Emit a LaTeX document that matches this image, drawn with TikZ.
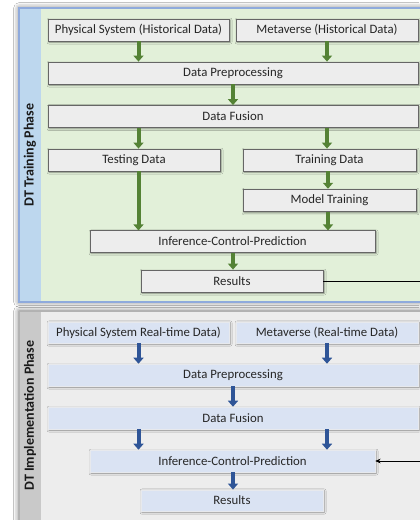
\documentclass[tikz,border=0pt]{standalone}
\usepackage{fontspec}
\setmainfont{Carlito}
\usetikzlibrary{arrows.meta,shadows.blur}
\definecolor{pgreen}{HTML}{E2F0D9}
\definecolor{pblue}{HTML}{BDD7EE}
\definecolor{pgray}{HTML}{EDEDED}
\definecolor{sgray}{HTML}{C9C9C9}
\definecolor{boxgray}{HTML}{EDEDED}
\definecolor{boxblue}{HTML}{DAE3F3}
\definecolor{agreen}{HTML}{548235}
\definecolor{ablue}{HTML}{2F5597}
\definecolor{bordblue}{HTML}{8FAADC}
\tikzset{
  base/.style={font=\fontsize{9.6}{11}\selectfont, text=black!85, inner sep=0pt, anchor=center},
  gbox/.style={base, draw=black!60, line width=0.6pt, fill=boxgray,
    blur shadow={shadow xshift=0.8pt, shadow yshift=-0.8pt, shadow blur radius=1.5pt, shadow opacity=45}},
  bbox/.style={base, draw=boxblue!80!black!30!white, line width=0.4pt, fill=boxblue,
    blur shadow={shadow xshift=0.8pt, shadow yshift=-0.8pt, shadow blur radius=1.5pt, shadow opacity=45}},
  garrow/.style={draw=agreen, line width=3pt, -{Triangle[length=4.5pt,width=7.5pt]}},
  barrow/.style={draw=ablue, line width=3pt, -{Triangle[length=4.5pt,width=7.5pt]}},
  phaselabel/.style={font=\fontsize{10.5}{12}\selectfont\bfseries, rotate=90, text=black!90}
}
\begin{document}
\begin{tikzpicture}[x=0.75pt,y=-0.75pt]
\useasboundingbox (0,0) rectangle (419,520);
\fill[white] (0,0) rectangle (419,520);
% top panel
\fill[black!40, blur shadow={shadow xshift=0pt, shadow yshift=0pt, shadow blur radius=4pt, shadow opacity=60}] (19,8) rectangle (422,302);
\fill[pgreen] (19,8) rectangle (422,302);
\fill[pblue] (19,8) rectangle (41,302);
\draw[bordblue, line width=0.8pt] (19,8) rectangle (422,302);
\node[phaselabel] (ph1) at (30,155) {DT Training Phase};
% bottom panel
\fill[black!40, blur shadow={shadow xshift=0pt, shadow yshift=0pt, shadow blur radius=4pt, shadow opacity=60}] (19,311) rectangle (422,525);
\fill[pgray] (19,311) rectangle (422,525);
\fill[sgray] (19,311) rectangle (41,525);
\draw[black!30, line width=0.6pt] (19,311) rectangle (422,525);
\node[phaselabel] (ph2) at (30,415.5) {DT Implementation Phase};

% top boxes
\node[gbox, minimum width=135.75pt, minimum height=16.5pt] (phys1) at (138.5,30) {Physical System (Historical Data)};
\node[gbox, minimum width=136.5pt, minimum height=16.5pt] (meta1) at (327,30) {Metaverse (Historical Data)};
\node[gbox, minimum width=277.5pt, minimum height=16.5pt] (pre1) at (233,73) {Data Preprocessing};
\node[gbox, minimum width=277.5pt, minimum height=16.5pt] (fus1) at (233,116.5) {Data Fusion};
\node[gbox, minimum width=129pt, minimum height=16.5pt] (test1) at (134,160) {Testing Data};
\node[gbox, minimum width=129.75pt, minimum height=16.5pt] (train1) at (329.5,160) {Training Data};
\node[gbox, minimum width=129.75pt, minimum height=17pt] (model1) at (329.5,200.5) {Model Training};
\node[gbox, minimum width=213.75pt, minimum height=16pt] (inf1) at (232.5,241.5) {Inference-Control-Prediction};
\node[gbox, minimum width=136.5pt, minimum height=16.5pt] (res1) at (232,281) {Results};

\draw[garrow] (phys1.south) -- (phys1.south |- pre1.north);
\draw[garrow] (meta1.south) -- (meta1.south |- pre1.north);
\draw[garrow] (pre1.south) -- (fus1.north);
\draw[garrow] (fus1.south -| phys1.south) -- (test1.north -| phys1.south);
\draw[garrow] (fus1.south -| meta1.south) -- (train1.north -| meta1.south);
\draw[garrow] (test1.south -| phys1.south) -- (inf1.north -| phys1.south);
\draw[garrow] (train1.south -| 328,0) -- (model1.north -| 328,0);
\draw[garrow] (model1.south -| 328,0) -- (inf1.north -| 328,0);
\draw[garrow] (inf1.south -| pre1.south) -- (res1.north -| pre1.south);

% bottom boxes
\node[bbox, minimum width=135.75pt, minimum height=16pt] (phys2) at (138.5,332.5) {Physical System Real-time Data)};
\node[bbox, minimum width=136.5pt, minimum height=16pt] (meta2) at (327,332.5) {Metaverse (Real-time Data)};
\node[bbox, minimum width=277.5pt, minimum height=16.5pt] (pre2) at (233,375) {Data Preprocessing};
\node[bbox, minimum width=277.5pt, minimum height=16.5pt] (fus2) at (233,418) {Data Fusion};
\node[bbox, minimum width=213.75pt, minimum height=16.5pt] (inf2) at (232.5,461) {Inference-Control-Prediction};
\node[bbox, minimum width=136.5pt, minimum height=16pt] (res2) at (232,500.5) {Results};

\draw[barrow] (phys2.south) -- (phys2.south |- pre2.north);
\draw[barrow] (meta2.south) -- (meta2.south |- pre2.north);
\draw[barrow] (pre2.south) -- (fus2.north);
\draw[barrow] (fus2.south -| phys2.south) -- (inf2.north -| phys2.south);
\draw[barrow] (fus2.south -| meta2.south) -- (inf2.north -| meta2.south);
\draw[barrow] (inf2.south -| pre2.south) -- (res2.north -| pre2.south);

% feedback connector
\draw[black, line width=0.6pt, -{Stealth[length=4pt,width=3.5pt]}] (res1.east) -- ++(110,0) |- (inf2.east);
\end{tikzpicture}
\end{document}
